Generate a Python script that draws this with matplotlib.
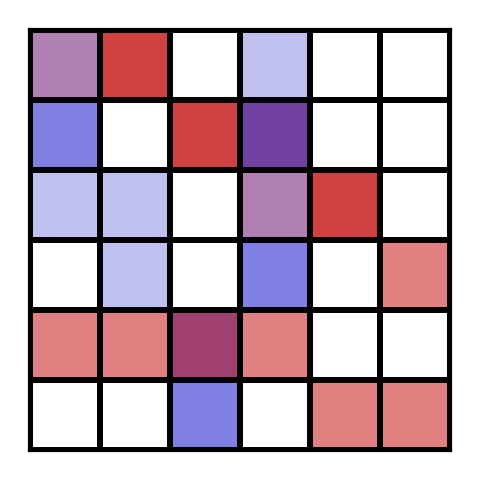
import numpy as np
import matplotlib
matplotlib.use('Agg')
import matplotlib.pyplot as plt
from matplotlib.colors import ListedColormap, BoundaryNorm

# category codes per cell (row 0 = top)
categories = ['white', 'mauve', 'red', 'lightblue', 'blue', 'darkpurple', 'pink', 'magenta']
palette = ['#ffffff', '#b080b2', '#d04242', '#c0c0f0', '#8080e2', '#7040a0', '#e08080', '#a04070']

grid = [
    [1, 2, 0, 3, 0, 0],
    [4, 0, 2, 5, 0, 0],
    [3, 3, 0, 1, 2, 0],
    [0, 3, 0, 4, 0, 6],
    [6, 6, 7, 6, 0, 0],
    [0, 0, 4, 0, 6, 6],
]

data = np.array(grid)
cmap = ListedColormap(palette)
norm = BoundaryNorm(np.arange(len(palette) + 1) - 0.5, len(palette))

fig = plt.figure(figsize=(4.8, 4.8), dpi=100)
ax = fig.add_axes([0.0625, 0.0625, 0.875, 0.875])
ax.pcolormesh(data, cmap=cmap, norm=norm, edgecolors='black', linewidth=3)
ax.set_xlim(0, data.shape[1])
ax.set_ylim(data.shape[0], 0)
ax.set_xticks([])
ax.set_yticks([])
for s in ax.spines.values():
    s.set_linewidth(3)
    s.set_color('black')

fig.savefig('out.png', dpi=100)
